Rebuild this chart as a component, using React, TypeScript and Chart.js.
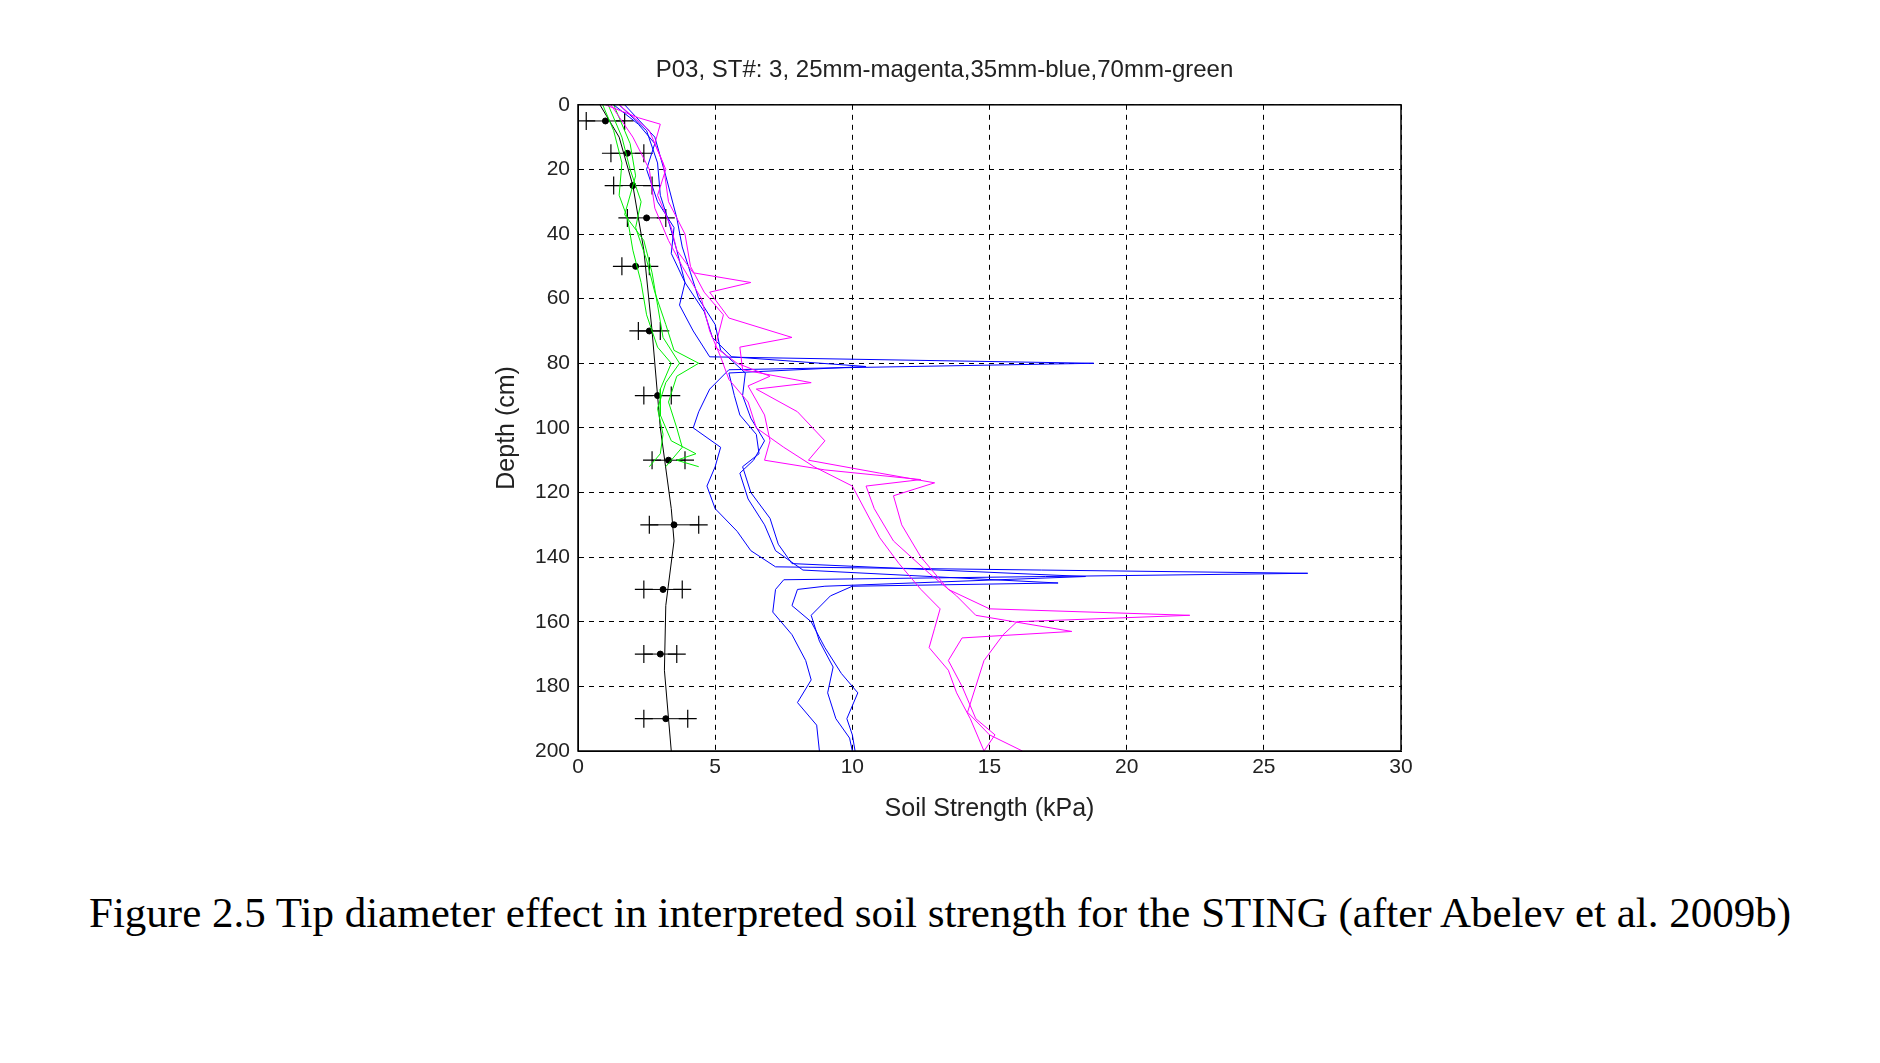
import React, { useEffect, useRef } from "react";
import { Chart, registerables } from "chart.js";
Chart.register(...registerables);

const xTicks = [0, 5, 10, 15, 20, 25, 30];
const yTicks = [0, 20, 40, 60, 80, 100, 120, 140, 160, 180, 200];

const magentaA = [[1.0,0],[2.2,4],[3.0,6],[2.8,12],[3.2,20],[2.9,28],[3.4,38],[3.6,45],[4.2,52],[6.3,55],[4.8,58],[5.5,66],[7.8,72],[5.9,75],[6.0,82],[8.5,86],[6.5,88],[8.0,95],[9.0,104],[8.4,110],[11,114],[13,117],[11.5,121],[11.8,130],[12.5,140],[13.5,150],[15,156],[22.3,158],[16,160],[15.5,164],[14.8,172],[14.5,180],[14.2,188],[15,195],[16.2,200]];
const magentaB = [[1.5,0],[2.6,8],[3.1,18],[3.3,30],[3.9,40],[4.1,50],[4.6,58],[5.3,65],[5.0,75],[5.8,80],[7.0,84],[6.2,87],[6.8,96],[7.0,104],[6.8,110],[9.0,113],[12.5,116],[10.5,118],[10.8,125],[11.5,135],[12.8,145],[13.8,152],[14.5,158],[18.0,163],[14,165],[13.5,172],[14.0,180],[14.5,190],[15.2,195],[14.8,200]];
const magentaC = [[1.2,0],[2.0,10],[2.6,20],[2.8,32],[3.3,42],[3.8,50],[4.5,60],[4.8,70],[5.2,78],[5.5,85],[6.2,92],[6.5,100],[7.5,106],[8.6,112],[10.0,118],[10.5,126],[11.0,134],[11.7,142],[12.5,150],[13.2,156],[13.0,162],[12.8,168],[13.5,175],[13.8,182],[14.3,190],[14.6,196],[14.8,200]];
const blueA = [[1.3,0],[2.2,6],[2.8,12],[2.5,20],[2.9,30],[3.5,38],[3.4,46],[3.9,55],[3.7,62],[4.2,70],[4.8,78],[18.8,80],[5.5,82],[4.8,88],[4.4,95],[4.2,100],[5.2,106],[5.0,112],[4.7,118],[5.0,125],[5.8,132],[6.3,138],[7.2,143],[26.6,145],[7.5,147],[7.2,150],[7.1,157],[7.8,164],[8.3,172],[8.5,178],[8.0,185],[8.7,192],[8.8,200]];
const blueB = [[1.5,0],[2.5,8],[2.9,18],[3.0,28],[3.3,36],[3.6,45],[3.9,55],[4.6,64],[4.9,72],[5.6,78],[10.5,81],[5.5,83],[5.7,90],[5.9,96],[6.5,102],[6.6,108],[6.0,112],[6.3,120],[7.0,128],[7.3,136],[7.8,142],[18.5,146],[9.0,149],[8.0,150],[7.8,155],[8.5,160],[9.0,168],[9.6,176],[10.2,182],[9.8,190],[10.0,195],[10.1,200]];
const blueC = [[1.7,0],[2.8,10],[3.2,22],[3.6,35],[3.8,44],[4.1,52],[4.4,60],[5.0,68],[5.2,76],[6.1,83],[6.0,90],[6.3,97],[6.8,104],[6.4,110],[5.9,114],[6.2,122],[6.8,130],[7.2,138],[8.2,144],[17.5,148],[10,149],[9.2,152],[8.5,158],[8.8,166],[9.3,174],[9.1,182],[9.4,190],[9.9,196],[10.0,200]];
const greenA = [[0.9,0],[1.3,8],[1.6,18],[1.5,28],[1.8,35],[2.0,45],[2.3,55],[2.5,65],[2.9,75],[3.4,80],[3.0,88],[3.0,96],[3.4,104],[4.3,108],[3.6,110],[4.4,112]];
const greenB = [[1.1,0],[1.6,10],[1.9,20],[2.3,30],[2.1,38],[2.5,48],[2.8,58],[3.2,68],[3.5,76],[4.4,80],[3.6,84],[3.3,92],[3.6,100],[3.8,106],[3.2,112]];
const greenC = [[1.3,0],[1.9,12],[2.1,22],[1.7,34],[2.4,42],[2.7,52],[2.9,62],[3.1,72],[3.7,80],[3.2,86],[2.9,94],[3.1,102],[3.0,108],[2.6,112]];
const meanCurve = [[0.8,0],[1.5,10],[2.0,25],[2.4,45],[2.7,70],[3.0,100],[3.4,125],[3.5,135],[3.2,155],[3.15,175],[3.3,190],[3.4,200]];
const barDepths = [5, 15, 25, 35, 50, 70, 90, 110, 130, 150, 170, 190];
const barMeans = [1.0, 1.8, 2.0, 2.5, 2.1, 2.6, 2.9, 3.3, 3.5, 3.1, 3.0, 3.2];
const barHalf = [0.7, 0.6, 0.7, 0.7, 0.5, 0.4, 0.5, 0.6, 0.9, 0.7, 0.6, 0.8];

const pts = (a: number[][]) => a.map(([x, y]) => ({ x, y }));

export default function App() {
  const ref = useRef<HTMLCanvasElement>(null);
  useEffect(() => {
    const line = (d: number[][], c: string) => ({
      data: pts(d), borderColor: c, borderWidth: 1, pointRadius: 0, showLine: true, fill: false,
    });
    const barSets: any[] = barDepths.map((y, i) => ({
      data: [{ x: barMeans[i] - barHalf[i], y }, { x: barMeans[i] + barHalf[i], y }],
      borderColor: "#000", borderWidth: 1, showLine: true,
      pointStyle: "cross", pointRadius: 9, pointBorderColor: "#000", pointBorderWidth: 1.2,
    }));
    const means = barDepths.map((y, i) => ({ x: barMeans[i], y }));
    const frame = {
      id: "frame",
      afterDraw(c: any) {
        const { left, right, top, bottom } = c.chartArea;
        const g = c.ctx;
        g.save(); g.strokeStyle = "#000"; g.lineWidth = 1.5; g.setLineDash([]);
        g.strokeRect(left, top, right - left, bottom - top); g.restore();
      },
    };
    const chart = new Chart(ref.current!, {
      type: "scatter",
      data: {
        datasets: [
          line(magentaA, "#ff00ff"), line(magentaB, "#ff00ff"), line(magentaC, "#ff00ff"),
          line(blueA, "#0000ff"), line(blueB, "#0000ff"), line(blueC, "#0000ff"),
          line(greenA, "#00ee00"), line(greenB, "#00ee00"), line(greenC, "#00ee00"),
          line(meanCurve, "#000000"),
          ...barSets,
          { data: means, pointRadius: 3, backgroundColor: "#000", borderColor: "#000" } as any,
        ],
      },
      options: {
        animation: false, responsive: false,
        layout: { padding: { left: 480, right: 471, top: 0, bottom: 0 } },
        plugins: {
          legend: { display: false }, tooltip: { enabled: false },
          title: { display: true, text: "P03, ST#: 3, 25mm-magenta,35mm-blue,70mm-green", color: "#222",
            font: { family: "Arial, Liberation Sans", size: 24, weight: "normal" }, padding: { top: 48, bottom: 20 } },
        },
        scales: {
          x: { type: "linear", min: 0, max: 30, afterBuildTicks: (s: any) => { s.ticks = xTicks.map(v => ({ value: v })); },
            ticks: { color: "#222", font: { family: "Arial, Liberation Sans", size: 21 }, padding: 4 },
            grid: { color: "#000", lineWidth: 1, drawTicks: false }, border: { dash: [5, 5], color: "#000" },
            title: { display: true, text: "Soil Strength (kPa)", color: "#222", font: { family: "Arial, Liberation Sans", size: 25 }, padding: { top: 6 } },
            afterFit: (s: any) => { s.height = 77; } },
          y: { type: "linear", min: 0, max: 200, reverse: true, afterBuildTicks: (s: any) => { s.ticks = yTicks.map(v => ({ value: v })); },
            ticks: { color: "#222", font: { family: "Arial, Liberation Sans", size: 21 }, padding: 8 },
            grid: { color: "#000", lineWidth: 1, drawTicks: false }, border: { dash: [5, 5], color: "#000" },
            title: { display: true, text: "Depth (cm)", color: "#222", font: { family: "Arial, Liberation Sans", size: 25 }, padding: { bottom: 4 } },
            afterFit: (s: any) => { s.width = 90; } },
        },
      } as any,
      plugins: [frame],
    });
    return () => chart.destroy();
  }, []);
  return (
    <div style={{ width: 1864 }}>
      <canvas ref={ref} width={1864} height={820} style={{ display: "block", width: 1864, height: 820 }} />
      <div style={{ fontFamily: "'Liberation Serif', 'Times New Roman', serif", fontSize: 43, lineHeight: "84px",
        textAlign: "center", marginTop: 43, padding: "0 40px" }}>
        Figure 2.5 Tip diameter effect in interpreted soil strength for the STING (after Abelev et al. 2009b)
      </div>
    </div>
  );
}
